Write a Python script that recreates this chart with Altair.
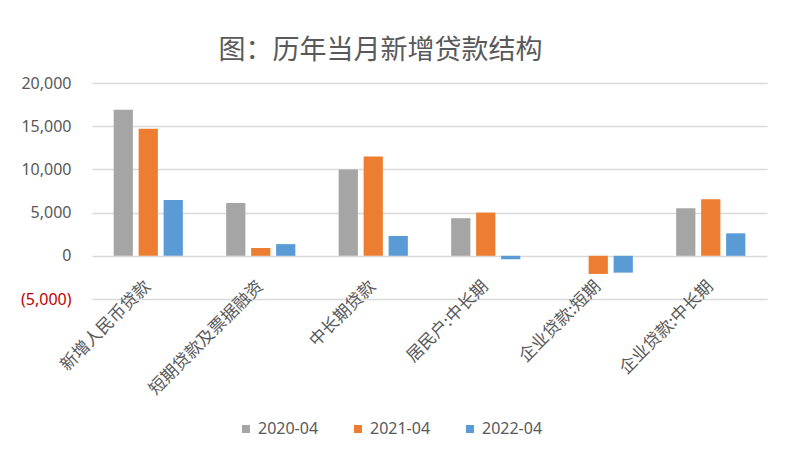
import altair as alt
import pandas as pd

categories = ["新增人民币贷款", "短期贷款及票据融资", "中长期贷款", "居民户:中长期", "企业贷款:短期", "企业贷款:中长期"]
years = ["2020-04", "2021-04", "2022-04"]
v2020 = [16900, 6100, 10000, 4350, 0, 5500]
v2021 = [14700, 900, 11500, 5000, -2100, 6550]
v2022 = [6450, 1350, 2300, -400, -1950, 2600]
colors = ["#A5A5A5", "#ED7D31", "#5B9BD5"]
y_ticks = [-5000, 0, 5000, 10000, 15000, 20000]

rows = []
for yr, vals in zip(years, [v2020, v2021, v2022]):
    for c, v in zip(categories, vals):
        rows.append({"category": c, "year": yr, "value": v})
df = pd.DataFrame(rows)

label_expr = "datum.value < 0 ? '(' + format(-datum.value, ',') + ')' : format(datum.value, ',')"

chart = alt.Chart(df).mark_bar().encode(
    x=alt.X("category:N", sort=categories,
            scale=alt.Scale(paddingInner=0.385, paddingOuter=0.1925),
            axis=alt.Axis(title=None, orient="bottom", offset=-43.2, labelAngle=-45,
                          domain=False, ticks=False, labelFontSize=17,
                          labelFont="Noto Sans CJK SC", labelColor="#595959",
                          labelPadding=22, labelOffset=-6, labelLimit=400)),
    xOffset=alt.XOffset("year:N", sort=years,
                        scale=alt.Scale(paddingInner=0.23, paddingOuter=0)),
    y=alt.Y("value:Q", scale=alt.Scale(domain=[-5000, 20000], nice=False),
            axis=alt.Axis(title=None, values=y_ticks, labelExpr=label_expr,
                          grid=True, gridColor="#D9D9D9", gridWidth=1.5,
                          domain=False, ticks=False, labelPadding=21,
                          labelFontSize=16, labelFont="Noto Sans",
                          labelColor={"condition": {"test": "datum.value < 0", "value": "#C00000"}, "value": "#595959"})),
    color=alt.Color("year:N", sort=years,
                    scale=alt.Scale(domain=years, range=colors),
                    legend=alt.Legend(orient="none", legendX=146, legendY=338,
                                      direction="horizontal", title=None,
                                      symbolType="square", symbolSize=64,
                                      symbolStrokeWidth=0, labelFontSize=16,
                                      labelFont="Noto Sans", labelColor="#595959",
                                      columnPadding=31, labelOffset=4)),
).properties(
    width=675,
    height=216,
    title=alt.TitleParams("图：历年当月新增贷款结构", anchor="middle", frame="group",
                          dx=-49, offset=-17, baseline="bottom", fontSize=27,
                          font="Noto Sans CJK SC", fontWeight="normal", color="#595959"),
    autosize=alt.AutoSizeParams(type="none"),
    padding={"left": 84, "top": 75, "right": 17, "bottom": 147},
).configure_view(stroke=None)

chart.save("out.html", embed_options={"renderer": "svg", "actions": False})
